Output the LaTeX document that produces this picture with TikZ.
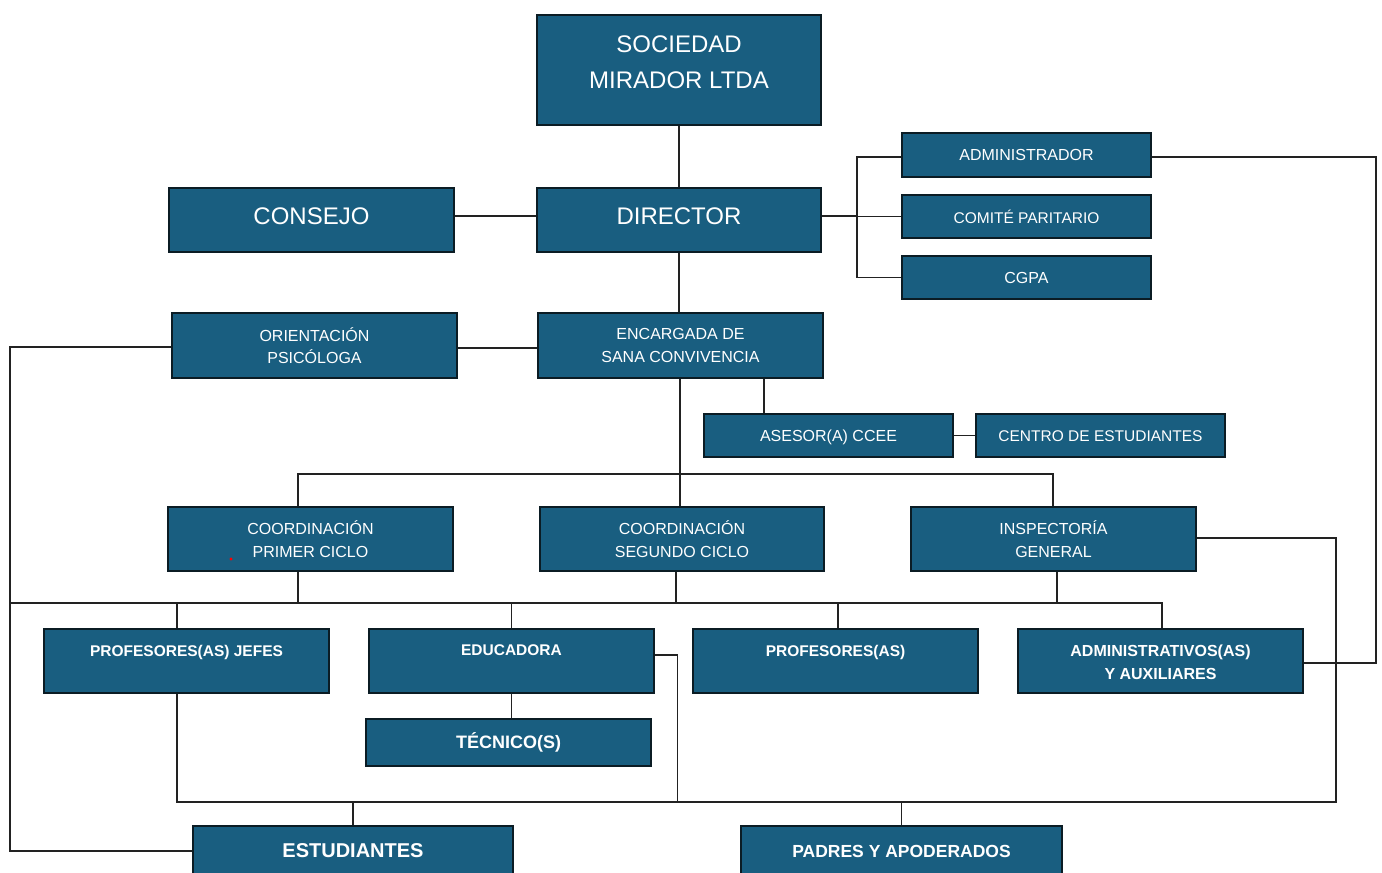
\documentclass[tikz,border=0pt]{standalone}
\usepackage{fontspec}
\setmainfont{Liberation Sans}
\definecolor{boxblue}{HTML}{195E80}
\definecolor{boxedge}{HTML}{0B1C24}
\definecolor{linegray}{HTML}{222222}
\begin{document}
\begin{tikzpicture}[x=1pt,y=-1pt,
  orgbox/.style={draw=boxedge, line width=2.8pt, fill=boxblue, text=white, align=center, inner sep=0pt},
  big/.style={font=\fontsize{24}{36}\selectfont},
  mid/.style={font=\fontsize{16}{22.5}\selectfont},
  bld/.style={font=\fontsize{15.5}{23}\selectfont\bfseries},
  lbl/.style={text=white, align=center},
  conn/.style={draw=linegray, line width=1.3pt}]
\useasboundingbox (0,0) rectangle (1382,873);
\clip (0,0) rectangle (1382,873);
\fill[white] (0,0) rectangle (1382,873);

% boxes
\node[orgbox, minimum width=284, minimum height=110] (soc) at (679,70) {};
\node[lbl, big] (soct) at ([yshift=8]soc.center) {SOCIEDAD\\MIRADOR LTDA};
\node[orgbox, minimum width=284, minimum height=64] (dir) at (679,220) {};
\node[lbl, big] (dirt) at ([yshift=4]dir.center) {DIRECTOR};
\node[orgbox, minimum width=285, minimum height=64] (con) at (311.5,220) {};
\node[lbl, big] (cont) at ([yshift=4]con.center) {CONSEJO};
\node[orgbox, mid, minimum width=249, minimum height=44] (adm) at (1026.5,155) {ADMINISTRADOR};
\node[orgbox, mid, minimum width=249, minimum height=43] (com) at (1026.5,216.5) {\fontsize{15.5}{20}\selectfont COMITÉ PARITARIO};
\node[orgbox, mid, minimum width=249, minimum height=43] (cgpa) at (1026.5,277.5) {CGPA};
\node[orgbox, mid, minimum width=285, minimum height=65] (ori) at (314.5,345.5) {ORIENTACIÓN\\PSICÓLOGA};
\node[orgbox, mid, minimum width=285, minimum height=65] (enc) at (680.5,345.5) {ENCARGADA DE\\SANA CONVIVENCIA};
\node[orgbox, mid, minimum width=249, minimum height=43] (ase) at (828.5,435.5) {};
\node[lbl, mid] (aset) at ([yshift=-1.5]ase.center) {ASESOR(A) CCEE};
\node[orgbox, mid, minimum width=249, minimum height=43] (cen) at (1100.5,435.5) {};
\node[lbl, font=\fontsize{15.5}{20}\selectfont] (cent) at ([yshift=-1]cen.center) {CENTRO DE ESTUDIANTES};
\node[orgbox, mid, minimum width=285, minimum height=64] (cp1) at (310.5,539) {COORDINACIÓN\\PRIMER CICLO};
\node[orgbox, mid, minimum width=284, minimum height=64] (cp2) at (682,539) {COORDINACIÓN\\SEGUNDO CICLO};
\node[orgbox, mid, minimum width=285, minimum height=64] (ins) at (1053.5,539) {INSPECTORÍA\\GENERAL};
\node[orgbox, minimum width=285, minimum height=64] (pj) at (186.5,661) {};
\node[orgbox, minimum width=285, minimum height=64] (edu) at (511.5,661) {};
\node[orgbox, minimum width=285, minimum height=64] (prof) at (835.5,661) {};
\node[orgbox, minimum width=285, minimum height=64] (admv) at (1160.5,661) {};
\node[orgbox, font=\fontsize{18}{22}\selectfont\bfseries, minimum width=285, minimum height=47] (tec) at (508.5,742.5) {TÉCNICO(S)};
\node[orgbox, font=\fontsize{20}{24}\selectfont\bfseries, minimum width=320, minimum height=50] (est) at (353,851) {ESTUDIANTES};
\node[orgbox, font=\fontsize{17.5}{22}\selectfont\bfseries, minimum width=321, minimum height=50] (pad) at (901.5,851) {PADRES Y APODERADOS};

% top-aligned labels in the bold row
\node[bld, lbl, anchor=north] (pjt) at ([yshift=-14]pj.north) {PROFESORES(AS) JEFES};
\node[bld, lbl, anchor=north] (edut) at ([yshift=-14]edu.north) {EDUCADORA};
\node[bld, lbl, anchor=north] (proft) at ([yshift=-14]prof.north) {PROFESORES(AS)};
\node[lbl, anchor=north, font=\fontsize{16}{23}\selectfont\bfseries] (admvt) at ([yshift=-14]admv.north) {ADMINISTRATIVOS(AS)\\Y AUXILIARES};

% red dot
\fill[red] (231,559) circle (1.6);

% helper coordinates
\coordinate (bj) at (857,216);
\coordinate (rx) at (1376,157);
\coordinate (lx) at (10,347);
\coordinate (h1) at (680,474);
\coordinate (b2) at (10,603);
\coordinate (b3) at (177,802);
\coordinate (rb) at (1336,538);

% connectors
\path[conn] (soc.south) -- (dir.north);
\path[conn] ([yshift=4]con.east) -- ([yshift=4]dir.west);
\path[conn] ([yshift=4]dir.east) -- ([yshift=4]dir.east -| bj);
\path[conn] ([yshift=-2]adm.west) -- ([yshift=-2]adm.west -| bj) -- (cgpa.west -| bj) -- (cgpa.west);
\path[conn] (com.west) -- (com.west -| bj);
\path[conn] ([yshift=-2]adm.east) -- ([yshift=-2]adm.east -| rx) -- ([yshift=-2]admv.east -| rx) -- ([yshift=-2]admv.east);
\path[conn] (dir.south) -- (dir.south |- enc.north);
\path[conn] ([yshift=-2.5]ori.east) -- ([yshift=-2.5]ori.east -| enc.west);
\path[conn] ([yshift=-1.5]ori.west) -- ([yshift=-1.5]ori.west -| lx) -- (est.west -| lx) -- (est.west);
\path[conn] ([xshift=-0.5]enc.south) -- ([xshift=-0.5]enc.south |- cp2.north);
\path[conn] ([xshift=-64.5]ase.north) -- ([xshift=-64.5]ase.north |- enc.south);
\path[conn] ([xshift=-12.5]cp1.north) -- ([xshift=-12.5]cp1.north |- h1) -- ([xshift=-0.5]ins.north |- h1) -- ([xshift=-0.5]ins.north);
\path[conn] (ase.east) -- (cen.west);
% bus under coordinations
\path[conn] (b2) -- ([xshift=1.5]admv.north |- b2) -- ([xshift=1.5]admv.north);
\path[conn] ([xshift=-12.5]cp1.south) -- ([xshift=-12.5]cp1.south |- b2);
\path[conn] ([xshift=-6]cp2.south) -- ([xshift=-6]cp2.south |- b2);
\path[conn] ([xshift=3.5]ins.south) -- ([xshift=3.5]ins.south |- b2);
\path[conn] ([xshift=-9.5]pj.north) -- ([xshift=-9.5]pj.north |- b2);
\path[conn] (edu.north) -- (edu.north |- b2);
\path[conn] ([xshift=2.5]prof.north) -- ([xshift=2.5]prof.north |- b2);
\path[conn] (edu.south) -- (edu.south |- tec.north);
% bottom bus
\path[conn] ([yshift=6]edu.east) -- ++(22,0) coordinate (ej) -- (ej |- b3);
\path[conn] ([xshift=-9.5]pj.south) -- (b3) -- (b3 -| rb) -- (rb) -- (rb -| ins.east);
\path[conn] (est.north) -- (est.north |- b3);
\path[conn] (pad.north) -- (pad.north |- b3);
\end{tikzpicture}
\end{document}
